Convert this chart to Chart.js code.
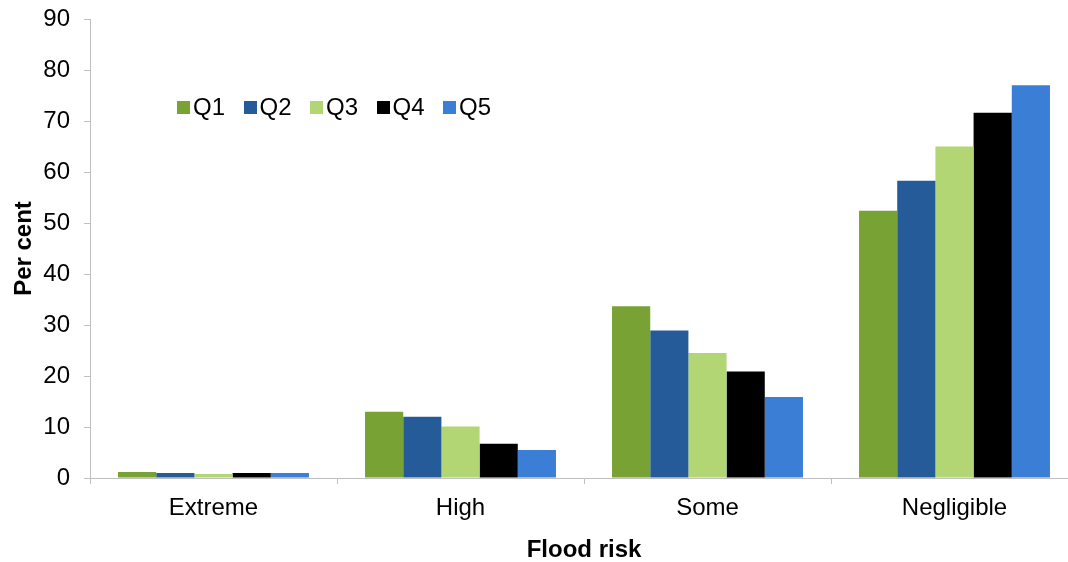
<!DOCTYPE html>
<html>
<head>
<meta charset="utf-8">
<script src="https://cdn.jsdelivr.net/npm/chart.js@4"></script>
<style>
  html, body { margin: 0; padding: 0; background: #fff; overflow: hidden; }
  #wrap { position: relative; width: 1080px; height: 562px; }
  #legend { position: absolute; left: 177px; top: 93px; font-family: "Liberation Sans", Arial, sans-serif; font-size: 24px; color: #000; white-space: nowrap; }
  #legend span.item { display: inline-block; width: 66.5px; }
  #legend span.box { display: inline-block; width: 13px; height: 13px; margin-right: 3px; vertical-align: 1px; }
</style>
</head>
<body>
<div id="wrap">
  <canvas id="chart" width="1080" height="562"></canvas>
  <div id="legend"></div>
</div>
<script>
var categories = ["Extreme", "High", "Some", "Negligible"];
var seriesNames = ["Q1", "Q2", "Q3", "Q4", "Q5"];
var q1 = [1.2, 13.0, 33.7, 52.4];
var q2 = [1.0, 12.0, 28.9, 58.3];
var q3 = [0.8, 10.1, 24.5, 65.0];
var q4 = [1.0, 6.7, 20.9, 71.6];
var q5 = [1.0, 5.5, 15.9, 77.0];
var yTicks = [0, 10, 20, 30, 40, 50, 60, 70, 80, 90];

var colors = ["#78a233", "#265b9a", "#b3d675", "#000000", "#3a7fd5"];
var values = [q1, q2, q3, q4, q5];
var axisGrey = "#bfbfbf";
var font = "'Liberation Sans', Arial, sans-serif";

var datasets = seriesNames.map(function (name, i) {
  return {
    label: name,
    data: values[i],
    backgroundColor: colors[i],
    borderWidth: 0,
    barPercentage: 1.0,
    categoryPercentage: 0.773
  };
});

// legend drawn as html so it can sit inside the plot area
var legend = document.getElementById("legend");
seriesNames.forEach(function (name, i) {
  legend.innerHTML += '<span class="item"><span class="box" style="background:' + colors[i] + '"></span>' + name + '</span>';
});

new Chart(document.getElementById("chart"), {
  type: "bar",
  data: { labels: categories, datasets: datasets },
  options: {
    responsive: false,
    animation: false,
    layout: { padding: { left: 0, right: 2, top: 19, bottom: 0 } },
    plugins: {
      legend: { display: false },
      tooltip: { enabled: false }
    },
    scales: {
      x: {
        afterFit: function (s) { s.height = 84; s.paddingLeft = 0; s.paddingRight = 0; },
        grid: { display: true, drawOnChartArea: false, drawTicks: true, tickLength: 6, color: axisGrey, offset: true },
        border: { color: axisGrey, width: 1 },
        ticks: { color: "#000", font: { family: font, size: 24 }, padding: 10 },
        title: { display: true, text: "Flood risk", color: "#000", font: { family: font, size: 24, weight: "bold" }, padding: { top: 4, bottom: -3 } }
      },
      y: {
        min: 0,
        max: 90,
        afterFit: function (s) { s.width = 90; s.paddingTop = 0; s.paddingBottom = 0; },
        afterBuildTicks: function (s) { s.ticks = yTicks.map(function (v) { return { value: v }; }); },
        grid: { display: true, drawOnChartArea: false, drawTicks: true, tickLength: 6, color: axisGrey },
        border: { color: axisGrey, width: 1 },
        ticks: { color: "#000", font: { family: font, size: 24 }, padding: 14 },
        title: { display: true, text: "Per cent", color: "#000", font: { family: font, size: 24, weight: "bold" }, padding: { top: 10, bottom: 0 } }
      }
    }
  }
});
</script>
</body>
</html>
